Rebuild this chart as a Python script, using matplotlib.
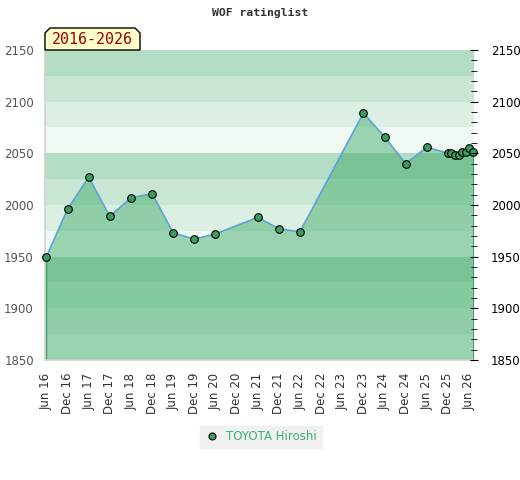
import matplotlib
matplotlib.use("Agg")
import matplotlib.pyplot as plt
from matplotlib.lines import Line2D
from matplotlib.patches import Polygon

# rating history (month, rating)
dates = ["2016-06", "2016-12", "2017-06", "2017-12", "2018-06", "2018-12",
         "2019-06", "2019-12", "2020-06", "2021-06", "2021-12", "2022-06",
         "2023-12", "2024-06", "2024-12", "2025-06", "2025-12", "2026-01",
         "2026-02", "2026-03", "2026-04", "2026-05", "2026-06", "2026-07"]
ratings = [1950, 1996, 2027, 1989, 2007, 2011,
           1973, 1967, 1972, 1988, 1977, 1974,
           2089, 2066, 2040, 2056, 2050, 2050,
           2048, 2048, 2051, 2051, 2055, 2051]

tick_labels = ["Jun 16", "Dec 16", "Jun 17", "Dec 17", "Jun 18", "Dec 18",
               "Jun 19", "Dec 19", "Jun 20", "Dec 20", "Jun 21", "Dec 21",
               "Jun 22", "Dec 22", "Jun 23", "Dec 23", "Jun 24", "Dec 24",
               "Jun 25", "Dec 25", "Jun 26"]

player = "TOYOTA Hiroshi"
period = "2016-2026"


def month_index(s):
    y, m = s.split("-")
    return (int(y) - 2016) * 12 + int(m) - 6


x = [month_index(d) for d in dates]
ticks = list(range(0, 121, 6))

band_colors = ["#b3dcc4", "#c9e6d5", "#dcefe3", "#eff8f2"]

fig = plt.figure(figsize=(5.2, 4.8), dpi=100)
ax = fig.add_axes([45 / 520, 1 - 360 / 480, 429 / 520, 310 / 480])

# background bands every 25 points
for i, lo in enumerate(range(2125, 1849, -25)):
    ax.axhspan(lo, lo + 25, color=band_colors[i % 4], lw=0, zorder=0)

ax.fill_between(x, ratings, 1850, facecolor="#34a65f", alpha=0.45,
                edgecolor="none", zorder=1)
ax.plot([x[0], x[0]], [1850, ratings[0]], color="#3a9e5f", lw=1, zorder=2)
ax.plot([x[-1], x[-1]], [1850, ratings[-1]], color="#3a9e5f", lw=1, zorder=2)
ax.plot(x, ratings, color="#5ba3d9", lw=1.2, zorder=3)
ax.plot(x, ratings, ls="none", marker="o", ms=5.5, mfc="#3a9e5f",
        mec="black", mew=0.8, zorder=4, clip_on=False)

ax.set_xlim(-0.4, 121.4)
ax.set_ylim(1850, 2150)
ax.set_xticks(ticks)
ax.set_xticklabels(tick_labels, rotation=90, fontsize=8.5, color="#333333")
ax.tick_params(axis="x", length=0, pad=9)
ax.set_yticks(range(1850, 2151, 50))
ax.tick_params(axis="y", length=0, labelsize=8.5, labelcolor="#555555", pad=8)

for s in ["top", "right"]:
    ax.spines[s].set_visible(False)
for s in ["left", "bottom"]:
    ax.spines[s].set_color("#d0d0d0")
    ax.spines[s].set_linewidth(1.2)

# right axis with minor ticks
ax2 = ax.twinx()
ax2.set_ylim(1850, 2150)
ax2.set_yticks(range(1850, 2151, 50))
ax2.set_yticks(range(1850, 2151, 10), minor=True)
ax2.tick_params(axis="y", which="major", direction="inout", length=6,
                labelsize=8.5, labelcolor="black", pad=9)
ax2.tick_params(axis="y", which="minor", direction="inout", length=5)
for s in ax2.spines.values():
    s.set_visible(False)

fig.text(0.5, 1 - 13 / 480, "WOF ratinglist", ha="center", va="center",
         family="DejaVu Sans Mono", fontweight="bold", fontsize=8.2,
         color="#333333")

# period label box with chamfered top corners
x0, x1, y0, y1, c = 45, 140, 50, 28, 5
pts = [(x0, y0), (x0, y1 + c), (x0 + c, y1), (x1 - c, y1), (x1, y1 + c), (x1, y0)]
pts = [(px / 520, 1 - py / 480) for px, py in pts]
fig.patches.append(Polygon(pts, closed=True, facecolor="#ffffcc",
                           edgecolor="black", lw=1, transform=fig.transFigure,
                           zorder=5))
fig.text((x0 + x1) / 2 / 520, 1 - 40 / 480, period, ha="center",
         va="center", family="DejaVu Sans Mono", fontsize=10.7,
         color="#990000", zorder=6)

handle = Line2D([], [], ls="none", marker="o", ms=5, mfc="#3a9e5f",
                mec="black", mew=0.8)
leg = fig.legend([handle], [player], loc="center",
                 bbox_to_anchor=(0.502, 1 - 437 / 480), frameon=True,
                 fancybox=False, facecolor="#f0f0f0", edgecolor="#f0f0f0",
                 framealpha=1, fontsize=8.5, handletextpad=0.6,
                 borderpad=0.4, handlelength=1.2)
for t in leg.get_texts():
    t.set_color("#3cb371")

fig.savefig("out.png", dpi=100)
